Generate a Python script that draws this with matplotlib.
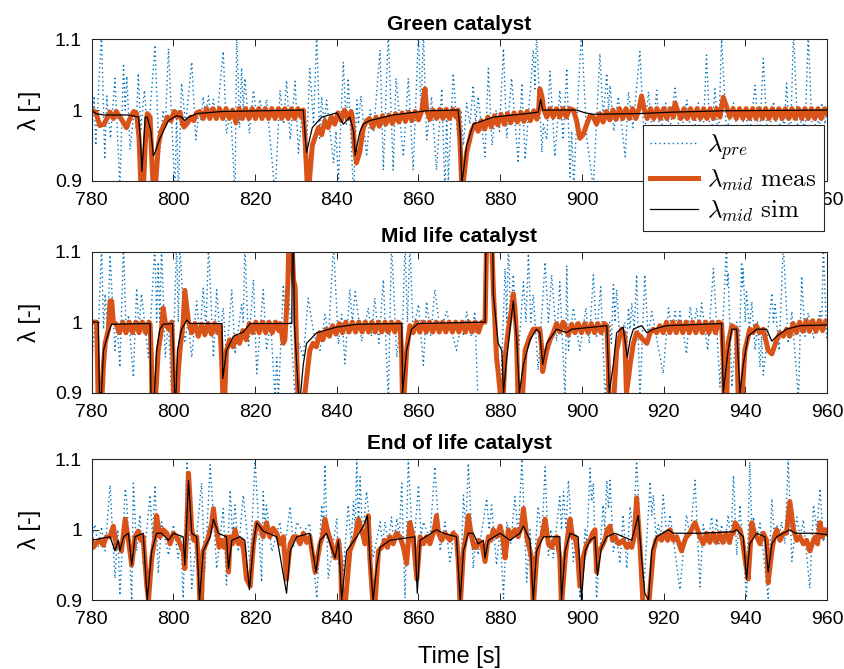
import matplotlib
matplotlib.use("Agg")
import matplotlib.pyplot as plt
from matplotlib.ticker import FuncFormatter

plt.rcParams["font.family"] = ["Liberation Sans", "DejaVu Sans"]
plt.rcParams["mathtext.fontset"] = "cm"

# lambda traces as (time [s], lambda [-]) pairs, one list per catalyst and signal
green_pre = [(780.0,0.96),(780.6,1.02),(781.0,0.95),(782.4,1.11),(783.2,0.93),(783.7,1.02),(784.6,0.96),(785.7,1.045),(786.9,0.89),(787.8,1.066),(788.2,1.0),(788.6,1.048),(789.4,0.944),(790.4,1.0),(790.9,0.975),(791.4,1.052),(792.0,0.97),(792.9,1.028),(793.8,0.96),(795.5,1.092),(796.5,0.93),(797.5,1.0),(798.0,0.975),(798.8,1.087),(800.4,0.88),(800.8,1.0),(801.2,0.88),(802.0,1.038),(803.0,0.98),(804.5,1.068),(805.5,0.958),(806.3,1.0),(806.8,0.985),(807.3,1.019),(807.8,0.99),(808.6,1.02),(809.2,0.99),(809.8,1.015),(810.6,0.985),(812.2,1.083),(813.0,0.967),(814.0,1.0),(815.1,0.88),(815.5,1.11),(816.2,0.975),(816.7,1.06),(817.1,1.0),(817.5,1.045),(818.6,0.967),(819.6,1.028),(820.4,0.99),(821.2,1.015),(822.0,0.99),(822.8,1.015),(824.9,0.88),(826.1,1.028),(827.0,0.98),(827.7,1.042),(828.6,0.958),(829.8,1.041),(830.6,0.939),(831.6,1.0),(832.3,0.91),(833.4,1.059),(834.3,0.98),(835.1,1.11),(835.8,0.96),(836.3,1.019),(836.9,0.98),(837.5,1.014),(839.2,0.925),(839.8,0.97),(840.4,0.9),(841.6,1.068),(842.3,0.98),(842.8,1.045),(844.1,0.88),(844.9,1.014),(845.3,0.98),(845.9,1.02),(847.3,0.934),(848.2,1.0),(849.0,0.97),(850.6,1.085),(851.4,0.915),(852.6,1.11),(853.8,0.915),(854.5,1.045),(856.3,0.934),(857.5,1.045),(858.7,0.915),(860.0,1.11),(860.6,1.0),(861.2,1.11),(862.0,0.958),(863.2,1.019),(864.4,0.915),(865.7,1.03),(866.5,0.88),(866.9,1.0),(867.3,0.9),(868.5,1.052),(869.5,0.97),(870.4,1.0),(871.0,0.95),(871.8,1.01),(872.6,0.98),(873.4,1.035),(874.0,0.98),(874.6,1.019),(876.3,0.934),(877.1,1.059),(878.0,0.95),(879.0,1.0),(879.8,0.97),(880.8,1.087),(881.6,0.96),(882.8,1.045),(884.4,0.925),(885.3,1.038),(886.1,0.93),(888.1,1.085),(888.5,1.03),(888.9,1.11),(890.2,0.94),(890.6,0.98),(891.4,0.958),(892.2,1.055),(893.4,0.934),(894.6,1.028),(895.4,0.958),(896.3,1.059),(897.1,0.905),(897.5,0.97),(898.0,0.89),(898.7,0.98),(899.9,1.11),(901.2,0.96),(902.8,0.89),(904.4,1.08),(905.2,0.99),(906.1,1.052),(906.5,1.0),(906.9,1.035),(907.8,0.97),(908.9,1.019),(910.6,0.934),(911.4,1.026),(912.5,0.975),(914.2,1.083),(915.2,0.96),(916.3,1.026),(917.3,0.965),(918.3,1.028),(919.1,0.96),(920.5,1.01),(921.5,0.97),(922.8,1.031),(924.0,0.96),(925.7,1.014),(927.0,0.95),(928.5,1.01),(929.5,0.94),(930.5,1.078),(931.5,0.95),(932.6,1.03),(933.4,0.95),(934.2,1.1),(935.4,0.97),(937.1,1.01),(938.5,0.95),(940.0,1.0),(941.0,0.96),(942.4,1.035),(943.4,0.95),(944.4,1.073),(945.5,0.95),(946.9,1.012),(948.0,0.96),(949.0,1.0),(949.5,0.97),(950.1,1.038),(951.0,0.95),(951.8,1.11),(953.0,0.95),(954.0,1.0),(954.6,0.96),(955.4,1.11),(956.5,0.95),(957.5,1.0),(958.0,0.97),(958.7,1.01),(959.5,0.98),(960.0,1.0)]

green_meas = [(780.0,1.0),(781.0,0.997),(782.0,0.978),(783.0,0.98),(784.5,0.997),(785.3,0.988),(786.0,0.998),(787.5,0.985),(788.5,0.975),(789.5,0.99),(790.3,0.998),(791.0,0.995),(791.6,0.96),(792.0,0.9),(792.6,0.88),(793.1,0.95),(793.6,0.995),(794.3,0.99),(794.8,0.92),(795.2,0.88),(795.7,0.9),(796.3,0.95),(797.0,0.97),(797.8,0.98),(798.6,0.99),(799.4,0.985),(800.2,0.998),(801.0,0.99),(801.6,0.997),(802.2,0.982),(802.6,0.976),(803.5,0.982),(804.3,0.99),(805.0,0.985),(805.7,0.996),(806.5,0.998),(807.3,0.988),(808.1,1.002),(808.9,0.988),(809.7,1.002),(810.5,0.988),(811.3,1.002),(812.1,0.988),(812.9,1.002),(813.7,0.988),(814.5,1.0),(815.3,0.982),(816.1,1.002),(816.9,0.988),(817.7,1.002),(818.5,0.988),(819.3,1.002),(820.1,0.988),(820.9,1.002),(821.7,0.988),(822.5,1.002),(823.3,0.988),(824.1,1.002),(824.9,0.988),(825.7,1.002),(826.5,0.988),(827.3,1.002),(828.1,0.988),(828.9,1.002),(829.7,0.988),(830.5,1.002),(831.3,0.99),(831.8,1.0),(832.3,0.95),(832.8,0.89),(833.3,0.9),(834.0,0.95),(835.5,0.975),(836.3,0.965),(837.1,0.985),(837.9,0.975),(838.7,0.99),(839.5,0.98),(840.3,0.996),(841.1,0.985),(841.9,1.0),(842.7,0.988),(843.5,0.998),(843.8,0.99),(844.3,0.95),(844.8,0.925),(845.6,0.94),(846.5,0.975),(847.3,0.985),(848.0,0.988),(848.8,0.975),(849.6,0.99),(850.4,0.977),(851.2,0.992),(852.0,0.98),(852.8,0.993),(853.6,0.981),(854.4,0.995),(855.2,0.983),(856.0,0.996),(856.8,0.984),(857.6,0.997),(858.4,0.985),(859.2,0.998),(860.0,0.986),(860.8,0.999),(861.6,1.03),(862.0,0.999),(862.8,0.987),(863.6,1.0),(864.4,0.988),(865.2,1.001),(866.0,0.988),(866.8,1.001),(867.6,0.988),(868.4,1.001),(869.2,0.99),(869.7,1.0),(870.2,0.95),(870.6,0.89),(871.0,0.9),(871.8,0.94),(873.0,0.97),(873.8,0.98),(874.6,0.97),(875.4,0.985),(876.2,0.973),(877.0,0.99),(877.8,0.976),(878.6,0.992),(879.4,0.979),(880.2,0.994),(881.0,0.98),(881.8,0.995),(882.6,0.982),(883.4,0.996),(884.2,0.983),(885.0,0.997),(885.8,0.984),(886.6,0.998),(887.4,0.985),(888.2,0.999),(889.0,0.987),(889.4,0.999),(889.7,1.03),(890.2,1.02),(890.7,1.0),(891.4,0.99),(892.2,1.002),(893.0,0.99),(893.8,1.002),(894.6,0.99),(895.4,1.002),(896.2,0.99),(897.0,1.002),(897.9,1.0),(898.7,0.985),(899.5,0.96),(900.3,0.965),(901.2,0.98),(902.0,0.992),(902.8,0.99),(903.6,0.98),(904.4,0.995),(905.2,0.983),(906.0,0.998),(906.8,0.986),(907.6,1.0),(908.4,0.987),(909.2,1.002),(910.0,0.988),(910.8,1.002),(911.6,0.988),(912.4,1.002),(913.2,0.988),(914.0,1.002),(914.6,1.02),(915.3,1.0),(916.0,0.988),(916.8,1.002),(917.6,0.988),(918.4,1.002),(919.2,0.988),(920.0,1.002),(920.8,0.988),(921.6,1.002),(922.4,0.99),(922.8,1.01),(923.4,1.0),(924.2,0.988),(925.0,1.002),(925.8,0.988),(926.6,1.002),(927.4,0.988),(928.2,1.002),(929.0,0.988),(929.8,1.002),(930.6,0.988),(931.4,1.002),(932.2,0.988),(933.0,1.002),(933.8,0.99),(934.6,1.018),(935.4,1.005),(936.2,0.99),(937.0,1.002),(937.8,0.988),(938.6,1.002),(939.4,0.988),(940.2,1.002),(941.0,0.988),(941.8,1.002),(942.6,0.988),(943.4,1.002),(944.2,0.988),(945.0,1.002),(945.8,0.988),(946.6,1.002),(947.4,0.988),(948.2,1.002),(949.0,0.988),(949.8,1.002),(950.6,0.988),(951.4,1.002),(952.2,0.988),(953.0,1.002),(953.8,0.988),(954.6,1.002),(955.4,0.988),(956.2,1.002),(957.0,0.988),(957.8,1.002),(958.6,0.988),(959.4,1.002),(960.0,0.995)]

green_sim = [(780.0,1.0),(781.0,0.995),(783.0,0.993),(789.0,0.993),(791.5,0.99),(792.0,0.95),(792.3,0.913),(792.7,0.95),(793.1,0.99),(793.6,0.99),(794.5,0.97),(795.1,0.935),(795.5,0.94),(796.7,0.96),(798.8,0.985),(800.8,0.992),(802.0,0.99),(802.8,0.985),(803.7,0.99),(805.7,0.995),(812.0,0.998),(831.8,1.0),(832.3,0.96),(832.6,0.94),(833.4,0.96),(834.0,0.975),(836.3,0.99),(840.0,0.996),(841.6,0.98),(842.4,0.985),(843.2,0.99),(844.1,0.97),(844.5,0.936),(845.3,0.96),(845.7,0.97),(846.5,0.98),(848.0,0.985),(853.8,0.993),(862.0,0.999),(869.7,1.0),(870.2,0.97),(870.6,0.895),(871.8,0.95),(873.4,0.98),(878.3,0.99),(886.5,0.995),(889.3,0.997),(889.9,1.015),(890.4,1.0),(898.7,1.0),(900.8,0.996),(902.8,0.994),(914.2,0.995),(922.0,0.997),(934.6,0.999),(960.0,1.0)]

mid_pre = [(780.0,0.94),(780.8,1.0),(781.5,0.96),(782.4,1.11),(782.9,0.99),(783.3,1.04),(783.9,0.98),(784.5,1.095),(785.7,0.96),(786.2,1.0),(786.9,0.936),(787.8,1.11),(788.4,0.99),(789.0,1.01),(790.2,0.922),(791.0,1.048),(791.6,0.99),(792.2,1.04),(793.9,0.95),(795.5,1.11),(795.9,1.0),(796.3,1.085),(796.7,1.0),(797.1,1.11),(798.0,0.95),(798.8,1.0),(799.6,0.89),(800.8,1.11),(801.2,1.0),(801.6,1.11),(802.8,0.973),(803.6,1.0),(804.5,0.95),(805.7,1.03),(806.5,0.98),(807.3,1.048),(808.0,0.99),(808.6,1.11),(809.8,0.95),(810.6,1.046),(811.4,0.98),(812.2,1.02),(813.0,0.95),(814.3,1.046),(815.1,0.955),(816.7,1.025),(817.1,1.0),(817.5,1.11),(818.4,0.964),(819.6,1.06),(820.4,0.927),(822.0,1.046),(822.8,0.96),(823.8,1.0),(824.9,0.89),(825.3,0.95),(825.7,0.89),(826.9,1.053),(827.5,0.99),(828.1,1.053),(829.8,0.89),(830.8,0.97),(831.8,0.95),(833.0,1.034),(834.5,0.98),(835.9,0.96),(837.1,1.011),(838.0,0.98),(839.2,1.11),(840.4,0.969),(841.2,1.011),(842.0,0.941),(843.2,1.046),(843.8,1.0),(844.5,1.043),(846.1,0.973),(847.7,1.02),(848.5,0.98),(849.3,1.034),(850.3,0.97),(851.4,1.06),(852.6,0.89),(853.4,1.11),(854.7,0.95),(855.5,1.0),(856.0,0.97),(856.7,1.11),(857.3,1.0),(857.9,1.11),(858.7,0.987),(860.0,1.025),(861.2,0.939),(862.0,1.029),(863.0,0.98),(864.0,1.046),(865.3,0.987),(866.9,1.015),(869.3,0.96),(870.5,1.0),(871.0,0.98),(871.8,1.015),(872.8,0.98),(873.8,1.015),(874.6,0.88),(877.0,0.85),(880.0,0.88),(881.2,1.076),(881.6,1.0),(882.0,1.11),(882.6,1.0),(883.2,1.067),(884.4,0.95),(885.7,1.057),(886.3,1.0),(886.9,1.097),(887.5,1.0),(888.1,1.039),(889.3,0.932),(891.0,1.085),(891.8,1.0),(892.6,1.067),(893.8,0.973),(894.6,1.057),(895.9,0.89),(896.3,1.08),(896.7,0.96),(897.9,1.02),(899.5,0.96),(901.0,1.02),(901.8,0.97),(902.8,1.067),(903.6,0.98),(904.6,1.05),(905.7,0.89),(906.8,1.0),(907.2,0.97),(907.7,1.053),(908.1,1.0),(908.5,1.046),(909.3,0.973),(910.5,1.0),(911.0,0.97),(911.4,1.02),(911.8,0.99),(912.2,1.027),(912.8,0.99),(913.4,1.067),(914.2,0.89),(915.4,1.067),(916.2,0.98),(917.1,1.015),(919.9,0.927),(921.2,1.02),(922.0,0.99),(922.8,1.015),(923.4,0.99),(924.0,1.015),(925.6,0.955),(926.5,1.022),(927.3,0.99),(928.1,1.02),(928.7,0.99),(929.3,1.027),(930.8,0.96),(932.2,1.076),(933.8,0.908),(935.4,1.11),(935.6,1.05),(935.8,1.07),(936.7,0.908),(937.9,1.0),(938.5,0.95),(939.1,1.085),(939.3,1.05),(939.5,1.076),(940.0,1.0),(940.3,1.043),(941.0,0.99),(941.6,1.029),(942.4,0.96),(943.0,1.0),(943.6,0.936),(944.0,0.98),(944.4,0.925),(946.5,1.041),(946.9,1.0),(947.3,1.025),(948.3,0.96),(949.3,1.11),(950.5,0.97),(951.4,1.015),(953.0,0.89),(953.8,1.065),(954.6,0.98),(955.4,1.013),(956.7,0.978),(958.3,1.015),(958.7,0.99),(959.1,1.11),(959.9,0.978),(960.0,0.98)]

mid_meas = [(780.0,1.0),(781.2,1.0),(781.4,0.95),(781.6,0.88),(782.4,0.88),(782.9,0.94),(783.3,0.97),(784.1,0.99),(784.5,1.03),(784.9,1.03),(785.3,1.0),(786.0,0.997),(786.8,0.985),(787.6,1.0),(788.4,0.985),(789.2,1.0),(790.0,0.985),(790.8,1.0),(791.6,0.985),(792.4,1.0),(793.2,0.985),(794.0,1.0),(794.3,0.997),(794.6,0.95),(794.8,0.88),(795.5,0.88),(796.3,0.96),(797.1,0.99),(797.5,1.02),(798.0,1.0),(798.8,0.99),(799.6,1.0),(799.9,0.95),(800.1,0.88),(800.8,0.88),(801.2,0.93),(801.6,0.96),(802.4,1.0),(802.8,1.045),(803.3,1.02),(803.7,1.0),(804.5,0.985),(805.3,0.998),(806.1,0.98),(806.9,0.997),(807.7,0.982),(808.5,0.998),(809.3,0.983),(810.1,0.998),(810.9,0.985),(811.4,0.995),(811.8,0.95),(812.2,0.88),(812.6,0.9),(813.0,0.96),(813.8,0.975),(814.6,0.965),(815.4,0.98),(816.2,0.97),(817.0,0.988),(817.8,0.975),(818.6,0.998),(819.4,0.985),(820.2,1.0),(821.0,0.985),(821.8,1.0),(822.6,0.985),(823.4,1.0),(824.2,0.985),(825.0,1.0),(825.8,0.988),(826.1,0.998),(826.5,0.985),(826.9,0.97),(827.3,0.975),(828.0,1.05),(828.3,1.12),(829.0,1.12),(829.4,1.06),(829.8,1.05),(830.2,0.95),(830.6,0.88),(831.8,0.88),(832.6,0.92),(833.4,0.96),(834.2,0.97),(835.0,0.965),(835.8,0.985),(836.6,0.975),(837.4,0.99),(838.2,0.98),(839.0,0.995),(839.8,0.983),(840.6,0.998),(841.4,0.985),(842.2,1.0),(843.0,0.986),(843.8,1.0),(844.6,0.986),(845.4,1.0),(846.2,0.986),(847.0,1.0),(847.8,0.986),(848.6,1.0),(849.4,0.986),(850.2,1.0),(851.0,0.986),(851.8,1.0),(852.6,0.986),(853.4,1.0),(854.2,0.986),(855.0,1.0),(855.5,0.997),(855.9,0.95),(856.1,0.88),(856.5,0.9),(857.1,0.96),(857.9,0.995),(858.7,0.985),(859.5,1.0),(860.3,0.986),(861.1,1.0),(861.9,0.986),(862.7,1.0),(863.5,0.986),(864.3,1.0),(865.1,0.986),(865.9,1.0),(866.7,0.986),(867.5,1.0),(868.3,0.986),(869.1,1.0),(869.9,0.986),(870.7,1.0),(871.5,0.986),(872.3,1.0),(873.1,0.986),(873.9,1.0),(874.7,0.986),(875.5,1.0),(876.3,1.0),(876.7,1.12),(877.9,1.12),(878.3,1.05),(878.7,1.0),(879.1,0.95),(879.5,0.93),(880.0,0.9),(880.4,0.88),(880.8,0.9),(881.2,0.95),(882.0,0.99),(882.8,1.02),(883.2,1.04),(883.6,1.02),(884.0,0.98),(884.4,0.88),(885.3,0.88),(886.1,0.96),(887.3,0.98),(888.1,0.99),(888.9,0.99),(889.7,0.99),(890.2,0.96),(890.4,0.93),(891.4,0.96),(892.2,0.975),(893.0,0.985),(893.8,0.998),(894.6,0.986),(895.4,1.0),(896.2,0.99),(896.7,0.982),(897.5,0.997),(898.3,0.985),(899.1,0.998),(899.9,0.985),(900.7,0.998),(901.5,0.985),(902.3,0.998),(903.1,0.985),(903.9,0.998),(904.7,0.985),(905.5,0.998),(906.1,0.995),(906.4,0.95),(906.7,0.88),(907.7,0.88),(908.5,0.96),(909.7,0.99),(910.5,0.98),(910.9,0.9),(911.4,0.92),(911.8,0.94),(912.6,0.97),(913.4,0.985),(914.2,0.98),(915.0,0.975),(915.9,0.97),(916.7,0.985),(917.5,0.99),(918.3,0.985),(919.1,0.995),(919.9,0.985),(920.7,1.0),(921.5,0.985),(922.3,1.0),(923.1,0.985),(923.9,1.0),(924.7,0.985),(925.5,1.0),(926.3,0.985),(927.1,1.0),(927.9,0.985),(928.7,1.0),(929.5,0.985),(930.3,1.0),(931.1,0.985),(931.9,1.0),(932.7,0.985),(933.5,1.0),(934.2,0.998),(934.6,0.95),(934.9,0.88),(935.4,0.88),(935.8,0.97),(936.7,0.995),(937.9,0.99),(938.3,0.88),(939.1,0.88),(939.9,0.96),(941.1,0.99),(941.9,0.985),(942.7,0.995),(943.5,0.985),(944.4,0.99),(945.6,0.96),(946.5,0.955),(947.7,0.975),(948.5,0.985),(949.3,0.98),(950.1,0.99),(950.9,0.98),(951.7,0.998),(952.5,0.985),(953.3,1.0),(954.1,0.987),(954.9,1.002),(955.7,0.987),(956.5,1.002),(957.3,0.987),(958.1,1.002),(958.9,0.988),(959.7,1.002),(960.0,1.0)]

mid_sim = [(780.0,1.0),(781.6,1.0),(781.9,0.9),(782.4,0.9),(782.9,0.96),(784.1,0.985),(784.9,0.997),(794.3,0.998),(794.5,0.9),(795.3,0.89),(795.9,0.96),(796.7,0.99),(797.5,0.997),(799.8,0.998),(800.3,0.9),(800.6,0.89),(801.0,0.96),(802.0,0.99),(803.3,1.003),(804.1,0.998),(811.9,0.998),(812.1,0.92),(813.0,0.96),(814.7,0.98),(817.1,0.986),(818.8,0.998),(829.0,0.998),(829.1,1.12),(829.4,1.12),(829.6,1.0),(830.6,0.9),(831.0,0.89),(831.8,0.94),(832.6,0.97),(835.1,0.985),(840.0,0.993),(845.0,0.997),(855.9,0.998),(856.1,0.9),(857.1,0.96),(858.3,0.99),(859.9,0.998),(876.3,1.0),(876.5,1.12),(878.2,1.12),(878.3,1.04),(879.5,0.97),(880.4,0.96),(880.8,0.9),(881.6,0.95),(882.4,0.99),(883.2,1.03),(884.0,0.98),(884.7,0.9),(885.7,0.94),(887.3,0.975),(888.9,0.99),(889.7,0.985),(890.4,0.94),(891.4,0.97),(893.8,0.99),(896.3,0.985),(897.5,0.99),(902.8,0.993),(906.1,0.995),(906.7,0.9),(907.7,0.94),(908.5,0.985),(910.1,0.993),(911.1,0.95),(911.8,0.975),(912.6,0.99),(914.6,0.995),(915.9,0.985),(917.5,0.99),(920.7,0.995),(934.2,0.998),(934.6,0.9),(935.8,0.96),(936.7,0.99),(937.9,0.99),(938.7,0.9),(939.5,0.94),(940.7,0.98),(942.8,0.99),(945.2,0.99),(946.5,0.973),(947.7,0.98),(950.1,0.99),(953.4,0.995),(960.0,0.996)]

end_pre = [(780.0,0.99),(780.8,1.007),(781.6,0.975),(782.4,1.004),(783.3,0.97),(784.5,1.063),(785.7,0.931),(786.4,1.0),(786.9,0.907),(788.2,1.058),(788.6,1.04),(789.8,0.9),(790.2,1.066),(791.0,0.97),(791.8,1.021),(792.6,0.95),(794.3,1.049),(794.9,0.99),(795.5,1.063),(796.3,0.938),(797.1,1.011),(798.8,0.964),(800.0,1.007),(801.2,0.96),(801.8,0.99),(802.4,0.903),(803.3,1.1),(804.5,0.917),(806.9,1.066),(807.7,0.94),(809.0,1.092),(810.6,0.945),(812.2,1.03),(813.0,0.922),(813.9,1.056),(814.5,0.99),(815.1,1.035),(815.9,0.969),(817.1,1.049),(818.8,0.95),(820.0,1.1),(821.6,0.926),(822.0,1.054),(822.4,1.0),(822.8,1.035),(824.1,0.969),(826.1,1.011),(826.9,0.96),(828.6,1.033),(829.4,0.975),(830.2,1.011),(831.8,0.997),(833.4,1.009),(835.1,0.903),(836.3,1.035),(836.7,1.0),(837.1,1.092),(837.9,0.931),(840.0,1.016),(840.4,0.95),(841.0,0.98),(841.6,0.94),(842.8,1.035),(843.5,0.98),(844.1,1.04),(844.5,1.0),(844.9,1.1),(845.3,1.0),(845.7,1.075),(846.3,0.99),(847.3,1.054),(848.9,0.96),(850.6,1.011),(851.2,0.98),(851.8,1.011),(852.6,0.98),(853.4,1.018),(854.0,0.98),(854.7,1.016),(855.3,0.99),(855.9,1.066),(856.7,0.903),(857.5,1.1),(858.7,0.964),(860.0,1.063),(860.6,0.99),(861.2,1.011),(862.8,0.988),(864.0,1.089),(865.3,0.97),(866.5,1.011),(867.7,0.955),(868.8,1.0),(870.2,0.903),(871.0,1.049),(871.6,1.0),(872.2,1.094),(873.4,0.945),(874.0,0.99),(874.6,0.964),(876.7,1.044),(877.3,1.0),(877.9,1.035),(879.1,0.95),(880.0,1.0),(880.8,0.903),(881.6,1.011),(882.6,0.98),(883.6,1.047),(884.4,0.99),(885.3,1.1),(886.5,0.926),(887.3,1.0),(888.1,0.93),(889.3,1.033),(890.2,0.99),(891.0,1.089),(891.8,0.964),(892.4,1.0),(893.0,0.96),(894.6,1.047),(895.0,1.0),(895.5,1.054),(896.1,1.0),(896.7,1.07),(897.9,0.955),(898.7,0.99),(899.5,0.903),(900.8,1.0),(901.2,0.98),(902.0,1.087),(902.4,1.04),(902.8,1.066),(903.6,0.903),(905.2,1.035),(905.6,1.0),(906.1,1.07),(906.5,1.03),(906.9,1.07),(907.7,0.969),(908.5,0.99),(909.3,0.952),(910.1,1.021),(911.0,0.945),(911.8,1.033),(912.6,0.99),(913.4,1.1),(915.0,0.9),(916.7,1.068),(917.1,1.02),(917.5,1.049),(918.1,0.99),(918.7,1.007),(919.3,0.99),(919.9,1.049),(920.8,0.99),(921.6,1.021),(924.0,0.915),(925.6,1.021),(926.5,0.99),(927.7,1.07),(928.9,0.919),(929.7,1.007),(930.7,0.98),(931.8,1.018),(932.4,0.98),(933.0,1.016),(933.6,0.98),(934.2,1.007),(935.0,0.98),(935.8,1.021),(936.5,0.98),(937.1,1.077),(937.9,0.964),(938.7,1.035),(940.3,0.903),(941.1,1.096),(941.6,1.0),(942.0,1.018),(942.8,0.99),(943.6,1.009),(945.6,0.903),(946.5,1.044),(947.1,0.99),(947.7,1.007),(948.3,0.99),(948.9,1.011),(949.7,0.98),(950.5,1.1),(951.4,0.955),(952.6,1.018),(953.4,0.99),(954.2,1.014),(955.8,0.917),(956.7,1.035),(957.5,1.0),(958.3,1.058),(959.1,0.983),(960.0,1.0)]

end_meas = [(780.0,0.985),(780.4,0.975),(781.0,0.98),(782.0,0.985),(782.8,0.978),(783.6,0.99),(784.5,0.99),(785.3,1.005),(786.1,0.975),(786.9,0.98),(787.3,0.97),(788.2,1.015),(789.0,0.985),(789.8,0.95),(790.6,0.99),(791.4,0.998),(792.0,0.985),(792.6,0.99),(793.5,0.92),(793.9,0.9),(794.7,0.96),(795.5,0.99),(795.9,1.02),(796.7,0.99),(797.5,1.0),(798.4,0.995),(799.2,0.98),(800.0,0.995),(800.8,0.99),(801.6,0.98),(802.4,0.97),(802.8,0.945),(803.3,1.0),(803.7,1.08),(804.1,1.04),(804.5,1.0),(805.0,0.985),(805.7,0.99),(806.2,0.95),(806.5,0.89),(806.9,0.9),(807.3,0.97),(808.0,0.98),(808.6,0.99),(809.4,1.01),(809.8,1.03),(810.2,1.01),(810.6,1.0),(811.2,0.975),(811.8,0.985),(812.4,0.975),(813.0,0.99),(813.5,0.94),(813.9,0.99),(814.5,0.98),(815.1,1.0),(815.9,0.98),(816.7,0.985),(817.2,0.97),(817.9,0.93),(818.8,0.92),(819.6,0.98),(820.4,1.01),(821.2,1.005),(822.0,0.99),(822.8,1.01),(823.6,0.99),(824.4,1.002),(825.3,0.995),(826.1,0.98),(826.9,0.99),(827.7,0.93),(828.6,0.98),(829.4,0.99),(830.2,0.99),(831.0,0.98),(831.8,0.995),(832.6,0.982),(833.4,0.99),(834.7,0.94),(835.9,0.98),(836.5,0.99),(837.1,1.015),(837.9,0.995),(838.7,0.98),(839.6,0.96),(840.4,0.985),(841.0,0.95),(841.2,0.89),(842.0,0.89),(843.2,0.97),(844.5,0.99),(845.3,1.015),(846.5,0.99),(846.9,0.98),(847.7,1.02),(848.1,0.96),(848.9,0.89),(849.3,0.89),(850.2,0.97),(851.0,0.975),(851.8,0.985),(852.4,0.975),(853.0,0.99),(853.8,0.98),(854.6,0.995),(855.5,0.99),(856.3,0.975),(857.1,0.952),(857.9,1.01),(858.7,0.99),(859.6,0.93),(860.4,0.99),(861.2,0.98),(862.0,0.99),(862.8,0.98),(863.6,0.995),(864.0,1.005),(864.4,1.02),(864.9,0.995),(865.7,0.985),(866.5,0.995),(867.7,0.985),(868.5,0.995),(869.3,0.99),(869.8,0.95),(870.2,0.89),(871.0,0.97),(871.6,0.99),(872.2,1.02),(873.0,0.99),(873.6,0.975),(874.2,0.975),(874.8,0.985),(875.5,0.98),(876.3,0.955),(877.1,0.99),(877.7,0.985),(878.3,1.0),(879.1,0.99),(880.0,1.005),(880.6,0.99),(881.2,0.96),(882.0,1.0),(882.8,0.99),(883.6,1.0),(884.4,0.99),(885.2,1.005),(885.7,1.03),(886.5,0.99),(887.1,0.975),(887.7,0.96),(888.1,0.89),(888.9,0.96),(889.6,0.985),(890.2,0.99),(891.0,1.015),(891.8,0.98),(892.6,0.975),(893.2,0.985),(893.8,0.99),(894.6,0.96),(895.0,0.89),(895.9,0.96),(896.5,0.99),(897.1,1.015),(897.7,0.99),(898.3,0.99),(898.9,0.97),(899.5,0.92),(900.3,0.96),(901.2,0.98),(902.0,0.985),(902.6,0.995),(903.2,1.0),(903.6,0.94),(904.2,0.97),(904.8,0.975),(905.6,0.985),(906.2,1.0),(906.9,1.005),(907.5,0.985),(908.1,0.99),(909.0,0.98),(910.1,0.985),(911.0,0.975),(911.6,0.98),(912.2,0.975),(912.8,0.99),(913.4,1.045),(914.2,0.98),(915.0,0.89),(916.3,0.89),(917.5,0.97),(918.1,0.985),(918.7,0.99),(919.5,0.985),(920.3,0.995),(921.0,0.985),(921.6,1.0),(922.4,0.985),(923.2,0.99),(924.4,0.97),(925.2,0.985),(925.6,0.99),(926.4,0.995),(927.7,1.01),(928.9,0.99),(929.7,0.98),(930.5,0.995),(931.3,0.982),(932.1,0.995),(932.9,0.982),(933.7,0.995),(934.5,0.982),(935.3,0.995),(936.1,0.982),(936.7,0.995),(937.1,0.995),(937.5,1.01),(938.7,1.0),(939.3,0.985),(939.9,0.96),(940.7,0.93),(941.6,1.01),(942.2,0.995),(942.8,0.99),(943.6,0.98),(944.4,0.995),(945.2,0.985),(945.6,0.925),(946.5,0.97),(947.1,0.99),(947.7,1.0),(948.5,0.985),(949.3,0.995),(950.1,0.995),(950.9,1.04),(951.8,1.0),(952.6,0.985),(953.4,0.99),(954.2,0.98),(955.0,0.985),(955.8,0.97),(956.4,0.98),(957.1,0.99),(957.7,0.98),(958.3,1.01),(958.9,0.99),(959.5,1.0),(960.0,0.995)]

end_sim = [(780.0,0.985),(784.5,0.99),(785.7,0.97),(786.5,0.985),(786.9,0.97),(787.8,0.99),(789.0,0.995),(789.8,0.95),(790.6,0.99),(792.6,0.995),(793.6,0.9),(794.7,0.97),(795.9,0.995),(797.1,0.995),(798.8,0.985),(800.0,0.995),(802.4,0.99),(802.8,0.95),(803.7,1.07),(804.5,0.995),(805.7,0.99),(806.4,0.9),(807.3,0.97),(809.0,0.99),(809.8,1.015),(811.0,0.995),(813.0,0.99),(813.5,0.945),(814.3,0.985),(816.3,0.99),(817.5,0.985),(818.6,0.915),(819.6,0.98),(820.4,1.01),(822.0,0.998),(825.3,0.99),(827.7,0.91),(828.6,0.97),(830.2,0.99),(833.4,0.995),(834.9,0.94),(835.9,0.985),(837.5,0.995),(839.6,0.96),(840.4,0.985),(841.2,0.9),(842.4,0.97),(844.9,0.99),(846.5,1.005),(847.5,1.02),(848.1,0.96),(848.9,0.9),(849.8,0.95),(850.6,0.975),(853.0,0.985),(859.1,0.99),(859.7,0.91),(860.4,0.985),(864.4,1.0),(866.1,0.995),(869.3,0.99),(870.2,0.9),(871.0,0.97),(872.2,0.995),(873.4,0.995),(874.6,0.98),(875.9,0.985),(876.3,0.96),(877.1,0.985),(880.0,0.995),(882.4,0.985),(884.8,0.995),(885.7,1.005),(887.3,0.985),(888.1,0.9),(888.9,0.97),(890.6,0.99),(894.6,0.99),(895.0,0.9),(895.9,0.97),(897.1,0.995),(899.1,0.99),(899.9,0.9),(900.8,0.97),(902.0,0.985),(903.2,0.99),(903.8,0.935),(904.8,0.975),(906.1,0.99),(908.1,0.995),(910.1,0.99),(912.2,0.985),(913.8,1.02),(914.6,0.96),(915.4,0.91),(916.3,0.9),(917.1,0.97),(918.3,0.99),(921.2,1.0),(922.4,0.995),(928.9,0.995),(937.1,0.997),(937.9,1.0),(939.5,0.99),(940.3,0.93),(941.1,0.98),(942.8,0.995),(944.8,0.99),(945.6,0.94),(946.5,0.98),(947.7,0.99),(950.9,1.0),(952.2,0.995),(957.1,0.995),(960.0,0.993)]

titles = ["Green catalyst", "Mid life catalyst", "End of life catalyst"]
x_ticks = [780, 800, 820, 840, 860, 880, 900, 920, 940, 960]
y_ticks = [0.9, 1.0, 1.1]

c_pre = "#0072BD"
c_meas = "#D95319"
c_sim = "black"

panels = [
    (green_pre, green_meas, green_sim),
    (mid_pre, mid_meas, mid_sim),
    (end_pre, end_meas, end_sim),
]

fig = plt.figure(figsize=(8.45, 6.69), dpi=100)
left, width = 0.1085, 0.8702
bottoms = [0.730, 0.413, 0.1027]
height = 0.211

axes = []
for k, (pre, meas, sim) in enumerate(panels):
    ax = fig.add_axes([left, bottoms[k], width, height])
    t, v = zip(*pre)
    ax.plot(t, v, color=c_pre, lw=1.0, ls=(0, (1, 2.2)), label=r"$\lambda_{pre}$")
    t, v = zip(*meas)
    ax.plot(t, v, color=c_meas, lw=3.6, solid_joinstyle="round",
            label=r"$\lambda_{mid}\ \mathrm{meas}$")
    t, v = zip(*sim)
    ax.plot(t, v, color=c_sim, lw=0.9, label=r"$\lambda_{mid}\ \mathrm{sim}$")

    ax.set_xlim(780, 960)
    ax.set_ylim(0.9, 1.1)
    ax.set_xticks(x_ticks)
    ax.set_yticks(y_ticks)
    ax.yaxis.set_major_formatter(FuncFormatter(lambda y, _: "%g" % round(y, 2)))
    ax.tick_params(direction="in", top=True, right=True, length=5, width=0.7,
                   color="#262626", labelsize=14)
    ax.tick_params(axis="x", pad=8)
    ax.tick_params(axis="y", pad=7)
    for s in ax.spines.values():
        s.set_color("#262626")
        s.set_linewidth(0.8)
    ax.set_title(titles[k], fontsize=15, fontweight="bold", pad=7)
    ax.set_ylabel("λ [-]", fontsize=17, labelpad=10)
    axes.append(ax)

axes[-1].set_xlabel("Time [s]", fontsize=17, labelpad=13)

leg = axes[0].legend(loc="upper left", bbox_to_anchor=(643 / 845, 1 - 125 / 669),
                     bbox_transform=fig.transFigure, fontsize=18, frameon=True,
                     fancybox=False, framealpha=1, edgecolor="#262626",
                     handlelength=1.9, handletextpad=0.35, labelspacing=0.22,
                     borderpad=0.3, borderaxespad=0)
leg.get_frame().set_linewidth(0.8)
leg.set_zorder(10)

fig.savefig("out.png", dpi=100)
